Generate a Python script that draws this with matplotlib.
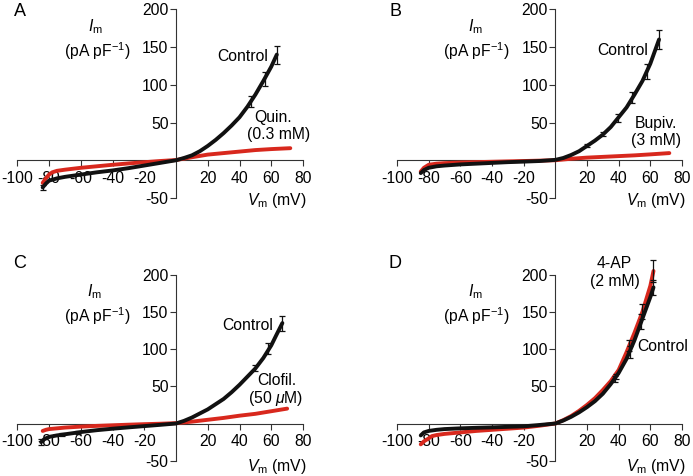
import matplotlib
matplotlib.use("Agg")
import matplotlib.pyplot as plt

plt.rcParams['font.family'] = ['Liberation Sans', 'DejaVu Sans']
plt.rcParams['mathtext.fontset'] = 'custom'
plt.rcParams['mathtext.rm'] = 'Liberation Sans'
plt.rcParams['mathtext.it'] = 'Liberation Sans:italic'

RED = '#d8281d'
BLACK = '#111111'

# ---------------- data (mV, pA/pF) ----------------
# Panel A
a_ctrl_v = [-84, -82, -80, -75, -70, -60, -50, -40, -30, -20, -10, 0, 5, 10, 15, 20, 25, 30, 35, 40, 45, 50, 55, 60, 63.5]
a_ctrl_i = [-36, -31, -27, -24, -22, -19, -16, -13.5, -10.5, -7, -3.5, 0, 3, 6.5, 12, 19, 27, 36, 46, 57, 71, 87, 105, 124, 140]
a_drug_v = [-84, -82, -80, -78, -75, -70, -60, -50, -40, -30, -20, -10, 0, 10, 20, 30, 40, 50, 60, 72]
a_drug_i = [-30, -24, -19, -16, -14, -12.5, -10, -8, -6, -4.2, -2.6, -1, 0.3, 4, 7.5, 9.5, 11.5, 13.5, 14.8, 16]
a_err_v = [-84, 47, 56, 63.5]
a_err_m = [-36, 78, 108, 140]
a_err_e = [3, 7, 9, 12]

# Panel B
b_ctrl_v = [-85, -83, -80, -75, -70, -60, -50, -40, -30, -20, -10, 0, 5, 10, 15, 20, 25, 30, 35, 40, 45, 50, 55, 60, 65.5]
b_ctrl_i = [-17, -13, -10, -8, -7, -5.5, -4.5, -3.5, -2.5, -1.8, -1, 0.5, 3, 7, 12, 19, 26, 34, 44, 57, 70, 87, 105, 128, 160]
b_drug_v = [-85, -83, -80, -75, -70, -60, -50, -40, -30, -20, -10, 0, 10, 20, 30, 40, 50, 60, 72]
b_drug_i = [-15, -10, -6, -4.5, -3.8, -3, -2.5, -2, -1.5, -1, -0.5, 0, 2, 3.5, 4.5, 5.5, 6.5, 7.8, 9.5]
b_err_v = [20, 30.3, 39.4, 48.6, 57.7, 65.5]
b_err_m = [19, 35, 56, 83, 117, 160]
b_err_e = [2, 3, 5, 7, 10, 13]

# Panel C
c_ctrl_v = [-85, -83, -80, -75, -70, -60, -50, -40, -30, -20, -10, 0, 5, 10, 15, 20, 25, 30, 35, 40, 45, 50, 55, 60, 63, 67]
c_ctrl_i = [-25, -21, -18, -16, -14.5, -11.5, -9, -7, -5.2, -3.5, -1.8, 0, 3.5, 8, 13.5, 19, 26, 33, 42, 52, 63, 74, 88, 105, 118, 135]
c_drug_v = [-84, -82, -80, -70, -60, -50, -40, -30, -20, -10, 0, 10, 20, 30, 40, 50, 60, 70]
c_drug_i = [-10, -8.5, -7.5, -5.5, -4.2, -3.2, -2.4, -1.6, -0.9, -0.3, 0.5, 2.5, 5, 7.5, 10.5, 13, 16.5, 20]
c_err_v = [-85, -72, -62, 50, 58, 67]
c_err_m = [-25, -15, -12, 74, 101, 135]
c_err_e = [4, 2, 2, 4, 7, 10]

# Panel D
d_ctrl_v = [-85, -83, -80, -75, -70, -60, -50, -40, -30, -20, -10, 0, 5, 10, 15, 20, 25, 30, 35, 40, 45, 50, 55, 60, 62]
d_ctrl_i = [-16, -12, -10, -8.5, -7.5, -6.5, -5.8, -5.2, -4.5, -3.8, -2, 0, 4, 9, 15, 22, 30, 40, 53, 68, 87, 112, 141, 170, 183]
d_drug_v = [-85, -83, -80, -78, -75, -70, -60, -50, -40, -30, -20, -10, 0, 5, 10, 15, 20, 25, 30, 35, 40, 45, 50, 55, 60, 62]
d_drug_i = [-28, -24, -20, -17, -15.5, -14, -12, -10, -8.5, -7, -5.5, -3, 0, 4.5, 10, 17, 25, 34, 45, 57, 72, 96, 122, 150, 185, 205]
d_err_v = [37.7, 47, 54, 61.9]
d_err_m = [60, 96, 137, 183]
d_err_e = [4, 8, 10, 10]
d_derr_v = [38, 46.5, 55, 61.9]
d_derr_m = [63, 105, 150, 205]
d_derr_e = [3, 7, 10, 15]

x_ticks = [-100, -80, -60, -40, -20, 20, 40, 60, 80]
y_ticks = [-50, 50, 100, 150, 200]

W, H = 693, 476
fig = plt.figure(figsize=(W / 100, H / 100), dpi=100)

def fx(px):
    return px / W

def fy(py):
    return 1 - py / H

# axes boxes in pixels: left, right, top(y=200), bottom(y=-50)
boxes = {
    'A': (17.3, 303, 9.3, 198),
    'B': (397, 682, 9.3, 198),
    'C': (17.3, 303, 274.7, 460.7),
    'D': (397, 682, 274.7, 460.7),
}

FS = 11.3

def setup(ax):
    ax.set_xlim(-100, 80)
    ax.set_ylim(-50, 200)
    for s in ('top', 'right'):
        ax.spines[s].set_visible(False)
    ax.spines['left'].set_position(('data', 0))
    ax.spines['bottom'].set_position(('data', 0))
    for s in ('left', 'bottom'):
        ax.spines[s].set_color('#333333')
        ax.spines[s].set_linewidth(0.8)
    ax.set_xticks(x_ticks)
    ax.set_yticks(y_ticks)
    ax.set_xticklabels([str(t) for t in x_ticks])
    ax.set_yticklabels([str(t) for t in y_ticks])
    ax.tick_params(axis='x', direction='out', length=4.6, width=0.8, color='#333333', pad=3.2, labelsize=FS)
    ax.tick_params(axis='y', direction='out', length=4.4, width=0.8, color='#333333', pad=1.0, labelsize=FS)
    ax.patch.set_alpha(0)

def make_ax(key):
    l, r, t, b = boxes[key]
    ax = fig.add_axes([fx(l), fy(b), fx(r) - fx(l), fy(t) - fy(b)])
    setup(ax)
    return ax

def draw(ax, cv, ci, dv, di, ev, em, ee, dev=None, dem=None, dee=None):
    ax.plot(dv, di, color=RED, lw=2.8, solid_capstyle='round', clip_on=False, zorder=3)
    if dev is not None:
        ax.errorbar(dev, dem, yerr=dee, fmt='none', ecolor=BLACK, elinewidth=0.9, capsize=2, capthick=0.9, zorder=3, clip_on=False)
    ax.plot(cv, ci, color=BLACK, lw=2.8, solid_capstyle='round', clip_on=False, zorder=4)
    ax.errorbar(ev, em, yerr=ee, fmt='none', ecolor=BLACK, elinewidth=0.9, capsize=2, capthick=0.9, zorder=5, clip_on=False)

axA = make_ax('A')
draw(axA, a_ctrl_v, a_ctrl_i, a_drug_v, a_drug_i, a_err_v, a_err_m, a_err_e)
axA.text(58, 137, 'Control', ha='right', va='center', fontsize=FS)
axA.text(61, 57, 'Quin.', ha='center', va='center', fontsize=FS)
axA.text(64.5, 33.5, '(0.3 mM)', ha='center', va='center', fontsize=FS)

axB = make_ax('B')
draw(axB, b_ctrl_v, b_ctrl_i, b_drug_v, b_drug_i, b_err_v, b_err_m, b_err_e)
axB.text(58.3, 145, 'Control', ha='right', va='center', fontsize=FS)
axB.text(63.6, 49, 'Bupiv.', ha='center', va='center', fontsize=FS)
axB.text(63.6, 26, '(3 mM)', ha='center', va='center', fontsize=FS)

axC = make_ax('C')
draw(axC, c_ctrl_v, c_ctrl_i, c_drug_v, c_drug_i, c_err_v, c_err_m, c_err_e)
axC.text(61.3, 131.5, 'Control', ha='right', va='center', fontsize=FS)
axC.text(63.8, 58, 'Clofil.', ha='center', va='center', fontsize=FS)
axC.text(62.5, 33.5, '(50 $\\mu$M)', ha='center', va='center', fontsize=FS)

axD = make_ax('D')
draw(axD, d_ctrl_v, d_ctrl_i, d_drug_v, d_drug_i, d_err_v, d_err_m, d_err_e,
     d_derr_v, d_derr_m, d_derr_e)
axD.text(37.3, 215, '4-AP', ha='center', va='center', fontsize=FS)
axD.text(37.3, 191, '(2 mM)', ha='center', va='center', fontsize=FS)
axD.text(51.5, 104, 'Control', ha='left', va='center', fontsize=FS)

# panel letters and axis labels (pixel positions)
letters = {'A': (20, 12), 'B': (395, 12), 'C': (20, 263), 'D': (395, 263)}
ilab = {'A': (95, 30, 97, 48), 'B': (475, 30, 476, 48), 'C': (94, 295, 97, 313), 'D': (475, 295, 476, 313)}
vlab = {'A': (277, 201), 'B': (656, 201), 'C': (277, 466), 'D': (656, 466)}

for k in 'ABCD':
    x, y = letters[k]
    fig.text(fx(x), fy(y), k, ha='center', va='center', fontsize=13)
    x1, y1, x2, y2 = ilab[k]
    # I_m label sits just above the units line
    fig.text(fx(x1), fy(y1 + 6), '$I_{\\mathrm{m}}$', ha='center', va='bottom', fontsize=FS)
    fig.text(fx(x2), fy(y2 - 8), '(pA pF$^{-1}$)', ha='center', va='top', fontsize=FS)
    x, y = vlab[k]
    fig.text(fx(x), fy(y), '$V_{\\mathrm{m}}$ (mV)', ha='center', va='center', fontsize=FS)

fig.savefig('out.png', dpi=100)
